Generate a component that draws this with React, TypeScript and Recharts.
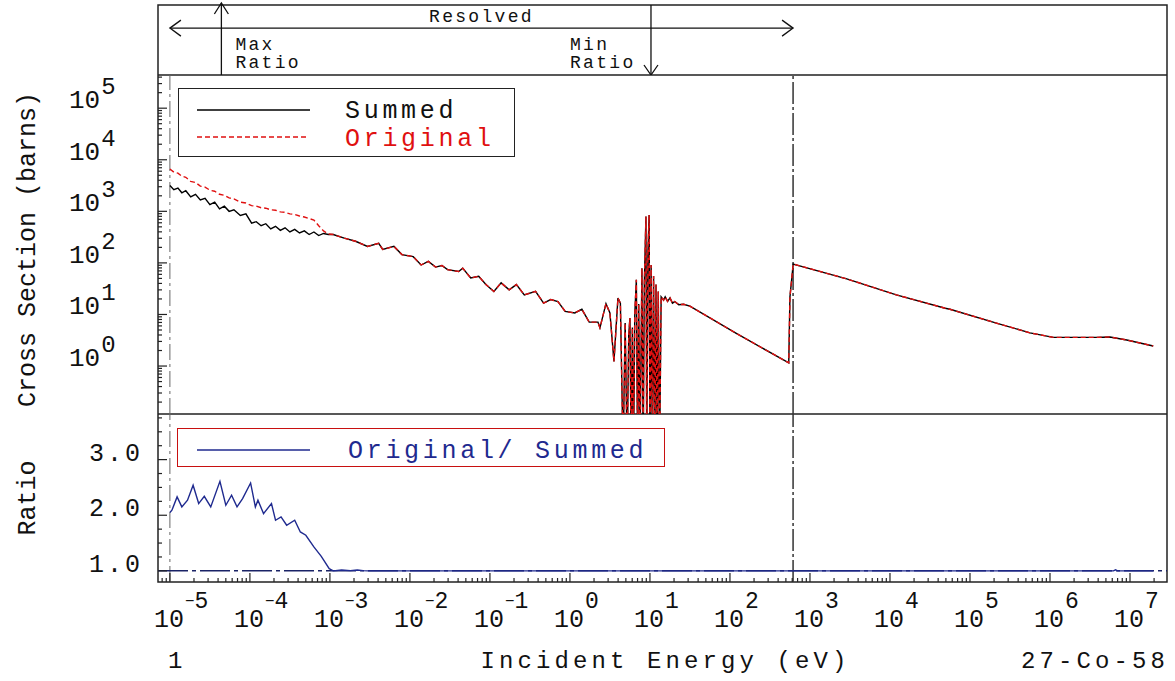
import React from 'react';
import {
  ComposedChart,
  Line,
  XAxis,
  YAxis,
  ReferenceLine,
  ReferenceArea,
  Legend
} from 'recharts';

const MONO = '"Liberation Mono", "DejaVu Sans Mono", monospace';
const INK = '#111';
const FRAME = '#222';
const RED = '#e01010';
const NAVY = '#1f2a8f';

// energy axis, eV (log)
const X_MIN = 7.1e-6;
const X_MAX = 2.9e7;
const xDecades = [-6, -5, -4, -3, -2, -1, 0, 1, 2, 3, 4, 5, 6, 7];

// cross section axis, barns (log)
const SIGMA_MIN = 0.1175;
const SIGMA_MAX = 4.4e5;
const sigmaDecades = [-1, 0, 1, 2, 3, 4, 5];

// ratio axis
const RATIO_MIN = 0.8;
const RATIO_MAX = 3.82;
const ratioTicks = [1, 1.25, 1.5, 1.75, 2, 2.25, 2.5, 2.75, 3, 3.25, 3.5, 3.75];

// annotation strip
const RESOLVED_START = 1e-5;
const RESOLVED_END = 615;
const MAX_RATIO_E = 4.4e-5;
const MIN_RATIO_E = 10.3;

// low energy part, where the two curves differ
const energyLow = [
  1.0e-5, 1.12e-5, 1.26e-5, 1.41e-5, 1.58e-5, 1.82e-5, 2.09e-5, 2.4e-5, 2.75e-5,
  3.16e-5, 3.63e-5, 4.17e-5, 4.79e-5, 5.5e-5, 6.31e-5, 7.59e-5, 8.91e-5, 1.05e-4,
  1.2e-4, 1.38e-4, 1.58e-4, 1.82e-4, 2.09e-4, 2.4e-4, 2.75e-4, 3.16e-4, 3.63e-4,
  4.17e-4, 4.79e-4, 5.5e-4, 6.31e-4, 7.24e-4, 8.32e-4, 9.55e-4
];
const summedLow = [
  3160, 2630, 2820, 2290, 2510, 1900, 2140, 1660, 1780, 1350, 1510, 1120, 1260,
  1000, 1070, 830, 890, 590, 630, 525, 575, 457, 513, 427, 479, 398, 447, 380,
  417, 355, 398, 339, 372, 355
];
const originalLow = [
  6610, 5750, 5500, 4790, 4570, 3800, 3630, 3090, 2950, 2570, 2450, 2140, 2040,
  1820, 1740, 1510, 1450, 1290, 1260, 1175, 1150, 1070, 1050, 977, 955, 891, 871,
  813, 776, 724, 676, 525, 417, 363
];

// common part: thermal / epithermal
const energyThermal = [
  1.1e-3, 1.51e-3, 2.09e-3, 2.95e-3, 4.07e-3, 4.57e-3, 6.31e-3, 7.94e-3, 1.1e-2,
  1.38e-2, 1.7e-2, 2.09e-2, 2.51e-2, 2.95e-2, 4.07e-2, 4.57e-2, 5.75e-2, 7.24e-2,
  8.91e-2, 0.112, 0.138, 0.174, 0.214, 0.269, 0.372, 0.468, 0.575, 0.708, 0.871,
  1.15, 1.41, 1.74, 2.24, 2.37, 2.82, 3.16, 3.55, 3.98, 4.27
];
const crossThermal = [
  355, 302, 263, 209, 240, 182, 209, 145, 132, 91, 107, 83, 89, 74, 68, 79, 51,
  55, 38, 28, 41, 30, 38, 24, 28, 16.6, 19.5, 17.8, 11.5, 10.7, 12.6, 7.1, 7.1,
  5.5, 16.2, 10.7, 1.23, 20.9, 16.6
];

// common part: resonances
const energyResonance = [
  4.62, 4.9, 5.19, 5.43, 5.62, 5.82, 6.03, 6.24, 6.46, 6.76, 7.0, 7.24, 7.5, 7.94,
  8.22, 8.51, 8.91, 9.12, 9.44, 9.77, 10.0, 10.35, 10.7, 11.1, 11.5, 11.9, 12.3,
  12.7, 13.2, 13.8, 14.8, 15.5, 16.6, 17.8, 19.1, 20.4, 22.9, 26.3, 31.6
];
const crossResonance = [
  0.02, 6.8, 0.02, 4.0, 8.5, 0.02, 5.6, 0.02, 10, 47, 0.02, 16, 0.02, 79, 0.02,
  40, 794, 0.02, 160, 851, 0.02, 91, 0.02, 56, 0.02, 38, 0.02, 28, 0.02, 22, 19,
  22, 18, 21, 16.6, 17.8, 15.5, 15.8, 14.5
];

// common part: unresolved / fast
const energyFast = [
  120, 543, 562, 617, 2880, 12000, 49000, 56200, 214000, 562000, 1.1e6, 3.8e6,
  5.6e6, 9.1e6, 1.95e7
];
const crossFast = [
  4.3, 1.15, 22, 95, 49, 24, 13.2, 12.6, 6.8, 4.4, 3.6, 3.6, 3.65, 3.2, 2.45
];

// Original / Summed
const ratioEnergy = [
  1.0e-5, 1.06e-5, 1.23e-5, 1.41e-5, 1.66e-5, 1.95e-5, 2.29e-5, 2.69e-5, 3.24e-5,
  4.22e-5, 5.0e-5, 5.9e-5, 6.9e-5, 8.1e-5, 1.02e-4, 1.17e-4, 1.26e-4, 1.48e-4,
  1.86e-4, 2.09e-4, 2.45e-4, 2.88e-4, 3.63e-4, 4.27e-4, 5.0e-4, 6.3e-4, 7.8e-4,
  9.8e-4, 1.1e-3, 1.4e-3, 1.8e-3, 2.2e-3, 2.6e-3, 3.0e-3, 1.0e6, 6.2e6, 6.6e6,
  7.0e6, 1.95e7
];
const ratioValues = [
  2.05, 2.09, 2.33, 2.15, 2.27, 2.54, 2.21, 2.34, 2.15, 2.61, 2.18, 2.36, 2.15,
  2.3, 2.58, 2.15, 2.27, 2.03, 2.21, 1.91, 1.97, 1.82, 1.91, 1.7, 1.64, 1.43,
  1.26, 1.04, 1.0, 1.015, 1.005, 1.015, 1.005, 1.0, 1.0, 1.0, 1.02, 1.0, 1.0
];

const energyCommon = [...energyThermal, ...energyResonance, ...energyFast];
const crossCommon = [...crossThermal, ...crossResonance, ...crossFast];

const mainData = [
  ...energyLow.map((e, i) => ({ e, summed: summedLow[i], original: originalLow[i] })),
  ...energyCommon.map((e, i) => ({ e, summed: crossCommon[i], original: crossCommon[i] }))
];
const ratioData = ratioEnergy.map((e, i) => ({ e, ratio: ratioValues[i] }));
const stripData = [{ e: RESOLVED_START }, { e: RESOLVED_END }];

const logTicks = (decades: number[], lo: number, hi: number) =>
  decades
    .flatMap(d => [1, 2, 3, 4, 5, 6, 7, 8, 9].map(m => m * Math.pow(10, d)))
    .filter(v => v >= lo && v <= hi);

const xTicks = logTicks(xDecades, X_MIN, X_MAX);
const sigmaTicks = logTicks(sigmaDecades, SIGMA_MIN, SIGMA_MAX);

const isDecade = (v: number) => {
  const p = Math.log10(v);
  return Math.abs(p - Math.round(p)) < 1e-6;
};

/* ---------- tick marks ---------- */

function XTickMark(props: any) {
  const { x, y, payload, inward, withLabel } = props;
  const v = payload.value;
  const major = isDecade(v);
  const exp = Math.round(Math.log10(v));
  const len = major ? 9 : 4;
  return (
    <g>
      <line x1={x} x2={x} y1={y} y2={y + inward * len} stroke={FRAME} strokeWidth={1.2} />
      {withLabel && major && (
        <text x={x - 16} y={y + 45} fontFamily={MONO} fill={INK}>
          <tspan fontSize={25}>10</tspan>
          {exp < 0 && (
            <tspan fontSize={16} dx={1} dy={-21}>−</tspan>
          )}
          <tspan fontSize={23} dx={exp < 0 ? 0 : 1} dy={exp < 0 ? 2 : -19}>
            {Math.abs(exp)}
          </tspan>
        </text>
      )}
    </g>
  );
}

function SigmaTick(props: any) {
  const { x, y, payload, inward, withLabel } = props;
  const v = payload.value;
  const major = isDecade(v);
  const exp = Math.round(Math.log10(v));
  const len = major ? 9 : 4;
  return (
    <g>
      <line x1={x} x2={x + inward * len} y1={y} y2={y} stroke={FRAME} strokeWidth={1.2} />
      {withLabel && major && (
        <text x={x - 89} y={y} fontFamily={MONO} fill={INK}>
          <tspan fontSize={26}>10</tspan>
          <tspan fontSize={24} dx={1} dy={-14}>{exp}</tspan>
        </text>
      )}
    </g>
  );
}

function RatioTick(props: any) {
  const { x, y, payload, inward, withLabel } = props;
  const v = payload.value;
  const major = Number.isInteger(v);
  const len = major ? 9 : 4;
  return (
    <g>
      <line x1={x} x2={x + inward * len} y1={y} y2={y} stroke={FRAME} strokeWidth={1.2} />
      {withLabel && major && (
        <text
          x={x - 15}
          y={y + 1}
          textAnchor="end"
          fontFamily={MONO}
          fontSize={25}
          letterSpacing={3}
          fill={INK}
        >
          {v.toFixed(1)}
        </text>
      )}
    </g>
  );
}

/* ---------- axis titles ---------- */

function VerticalTitle(props: any) {
  const { viewBox, text, shift } = props;
  const cy = viewBox.y + viewBox.height / 2 + (shift || 0);
  return (
    <text
      x={35}
      y={cy}
      transform={`rotate(-90, 35, ${cy})`}
      textAnchor="middle"
      fontFamily={MONO}
      fontSize={25}
      fill={INK}
    >
      {text}
    </text>
  );
}

function BottomTitle(props: any) {
  const { viewBox } = props;
  const base = viewBox.y + 86;
  const style = { fontFamily: MONO, fontSize: 24, letterSpacing: 4.1, fill: INK };
  return (
    <g>
      <text x={viewBox.x + 10} y={base} {...style}>1</text>
      <text x={viewBox.x + viewBox.width / 2 + 3} y={base} textAnchor="middle" {...style}>
        Incident Energy (eV)
      </text>
      <text x={viewBox.x + viewBox.width + 2} y={base} textAnchor="end" {...style}>
        27-Co-58
      </text>
    </g>
  );
}

/* ---------- annotation shapes ---------- */

const stripText = { fontFamily: MONO, fontSize: 18, letterSpacing: 2.3, fill: INK, stroke: 'none' };

const ResolvedArrow = (p: any) => {
  const a = Math.min(p.x1, p.x2);
  const b = Math.max(p.x1, p.x2);
  const y = p.y1;
  return (
    <g stroke={INK} strokeWidth={1.3} fill="none">
      <line x1={a} x2={b} y1={y} y2={y} />
      <polyline points={`${a + 11},${y - 8} ${a},${y} ${a + 11},${y + 8}`} />
      <polyline points={`${b - 11},${y - 8} ${b},${y} ${b - 11},${y + 8}`} />
      <text x={(a + b) / 2} y={y - 6} textAnchor="middle" {...stripText}>Resolved</text>
    </g>
  );
};

const MaxRatioArrow = (p: any) => {
  const x = p.x1;
  const top = Math.min(p.y1, p.y2);
  const bottom = Math.max(p.y1, p.y2);
  return (
    <g stroke={INK} strokeWidth={1.3} fill="none">
      <line x1={x} x2={x} y1={top - 2} y2={bottom} />
      <polyline points={`${x - 7},${top + 9} ${x},${top - 2} ${x + 7},${top + 9}`} />
      <text x={x + 14} y={top + 45} {...stripText}>Max</text>
      <text x={x + 14} y={top + 63} {...stripText}>Ratio</text>
    </g>
  );
};

const MinRatioArrow = (p: any) => {
  const x = p.x1;
  const top = Math.min(p.y1, p.y2);
  const bottom = Math.max(p.y1, p.y2);
  return (
    <g stroke={INK} strokeWidth={1.3} fill="none">
      <line x1={x} x2={x} y1={top} y2={bottom} />
      <polyline points={`${x - 7},${bottom - 10} ${x},${bottom} ${x + 7},${bottom - 10}`} />
      <text x={x - 81} y={top + 45} {...stripText}>Min</text>
      <text x={x - 81} y={top + 63} {...stripText}>Ratio</text>
    </g>
  );
};

/* ---------- legends ---------- */

const legendText = { fontFamily: MONO, fontSize: 25, letterSpacing: 3.7 };

const MainLegendBox = () => (
  <div
    style={{
      width: 337,
      height: 69,
      border: `1.5px solid ${FRAME}`,
      boxSizing: 'border-box',
      background: '#fff'
    }}
  >
    <svg width={334} height={66} style={{ display: 'block' }}>
      <line x1={18} x2={131} y1={21} y2={21} stroke="#000" strokeWidth={1.3} />
      <text x={166} y={29} fill={INK} {...legendText}>Summed</text>
      <line x1={18} x2={127} y1={48} y2={48} stroke={RED} strokeWidth={1.3} strokeDasharray="5 3" />
      <text x={166} y={57} fill={RED} {...legendText}>Original</text>
    </svg>
  </div>
);

const RatioLegendBox = () => (
  <div
    style={{
      width: 488,
      height: 39,
      border: '1.5px solid #c81010',
      boxSizing: 'border-box',
      background: '#fff'
    }}
  >
    <svg width={485} height={36} style={{ display: 'block' }}>
      <line x1={19} x2={132} y1={21} y2={21} stroke={NAVY} strokeWidth={1.3} />
      <text x={170} y={29} fill={NAVY} {...legendText}>Original/ Summed</text>
    </svg>
  </div>
);

/* ---------- shared axis bits ---------- */

const flatAxis = {
  tickLine: false,
  axisLine: false,
  tickSize: 0,
  tickMargin: 0,
  interval: 0 as const,
  allowDataOverflow: true
};

const App = () => {
  return (
    <div
      style={{
        position: 'absolute',
        left: 0,
        top: 0,
        width: 1175,
        height: 681,
        background: '#fff',
        overflow: 'hidden'
      }}
    >
      {/* annotation strip */}
      <div style={{ position: 'absolute', left: 0, top: 0 }}>
        <ComposedChart
          width={1175}
          height={75}
          data={stripData}
          margin={{ top: 5, right: 8, bottom: 0, left: 158 }}
        >
          <XAxis xAxisId="e" dataKey="e" type="number" scale="log" domain={[X_MIN, X_MAX]} allowDataOverflow hide />
          <YAxis yAxisId="s" type="number" domain={[0, 1]} allowDataOverflow hide />
          <ReferenceArea
            xAxisId="e"
            yAxisId="s"
            x1={X_MIN}
            x2={X_MAX}
            y1={0}
            y2={1}
            fill="none"
            fillOpacity={0}
            stroke={FRAME}
            strokeWidth={1.5}
          />
          <ReferenceLine
            xAxisId="e"
            yAxisId="s"
            segment={[{ x: RESOLVED_START, y: 0.67 }, { x: RESOLVED_END, y: 0.67 }]}
            shape={ResolvedArrow}
          />
          <ReferenceLine xAxisId="e" yAxisId="s" x={MAX_RATIO_E} shape={MaxRatioArrow} />
          <ReferenceLine xAxisId="e" yAxisId="s" x={MIN_RATIO_E} shape={MinRatioArrow} />
        </ComposedChart>
      </div>

      {/* cross sections */}
      <div style={{ position: 'absolute', left: 0, top: 75 }}>
        <ComposedChart
          width={1175}
          height={339}
          data={mainData}
          margin={{ top: 0, right: 8, bottom: 0, left: 0 }}
        >
          <XAxis
            xAxisId="b"
            dataKey="e"
            type="number"
            scale="log"
            domain={[X_MIN, X_MAX]}
            ticks={xTicks}
            height={0}
            tick={(p: any) => <XTickMark {...p} inward={-1} />}
            {...flatAxis}
          />
          <XAxis
            xAxisId="t"
            orientation="top"
            dataKey="e"
            type="number"
            scale="log"
            domain={[X_MIN, X_MAX]}
            ticks={xTicks}
            height={0}
            tick={(p: any) => <XTickMark {...p} inward={1} />}
            {...flatAxis}
          />
          <YAxis
            yAxisId="l"
            type="number"
            scale="log"
            domain={[SIGMA_MIN, SIGMA_MAX]}
            ticks={sigmaTicks}
            width={158}
            tick={(p: any) => <SigmaTick {...p} inward={1} withLabel />}
            label={<VerticalTitle text="Cross Section (barns)" shift={5} />}
            {...flatAxis}
          />
          <YAxis
            yAxisId="r"
            orientation="right"
            type="number"
            scale="log"
            domain={[SIGMA_MIN, SIGMA_MAX]}
            ticks={sigmaTicks}
            width={0}
            tick={(p: any) => <SigmaTick {...p} inward={-1} />}
            {...flatAxis}
          />
          <ReferenceArea
            xAxisId="b"
            yAxisId="l"
            x1={X_MIN}
            x2={X_MAX}
            y1={SIGMA_MIN}
            y2={SIGMA_MAX}
            fill="none"
            fillOpacity={0}
            stroke={FRAME}
            strokeWidth={1.5}
          />
          <ReferenceLine xAxisId="b" yAxisId="l" x={RESOLVED_START} stroke="#666" strokeWidth={1} strokeDasharray="16 4 3 4" />
          <ReferenceLine xAxisId="b" yAxisId="l" x={RESOLVED_END} stroke="#333" strokeWidth={1.5} strokeDasharray="22 3 3 3" />
          <Line
            xAxisId="b"
            yAxisId="l"
            type="linear"
            dataKey="summed"
            stroke="#000"
            strokeWidth={1.4}
            dot={false}
            isAnimationActive={false}
          />
          <Line
            xAxisId="b"
            yAxisId="l"
            type="linear"
            dataKey="original"
            stroke={RED}
            strokeWidth={1.4}
            strokeDasharray="5 3"
            dot={false}
            isAnimationActive={false}
          />
          <Legend
            layout="horizontal"
            verticalAlign="middle"
            align="center"
            content={() => <MainLegendBox />}
            wrapperStyle={{ left: 178, top: 13, width: 337, height: 69 }}
          />
        </ComposedChart>
      </div>

      {/* ratio */}
      <div style={{ position: 'absolute', left: 0, top: 414 }}>
        <ComposedChart
          width={1175}
          height={267}
          data={ratioData}
          margin={{ top: 0, right: 8, bottom: 0, left: 0 }}
        >
          <XAxis
            xAxisId="b"
            dataKey="e"
            type="number"
            scale="log"
            domain={[X_MIN, X_MAX]}
            ticks={xTicks}
            height={99}
            tick={(p: any) => <XTickMark {...p} inward={-1} withLabel />}
            label={<BottomTitle />}
            {...flatAxis}
          />
          <XAxis
            xAxisId="t"
            orientation="top"
            dataKey="e"
            type="number"
            scale="log"
            domain={[X_MIN, X_MAX]}
            ticks={xTicks}
            height={0}
            tick={(p: any) => <XTickMark {...p} inward={1} />}
            {...flatAxis}
          />
          <YAxis
            yAxisId="l"
            type="number"
            domain={[RATIO_MIN, RATIO_MAX]}
            ticks={ratioTicks}
            width={158}
            tick={(p: any) => <RatioTick {...p} inward={1} withLabel />}
            label={<VerticalTitle text="Ratio" shift={0} />}
            {...flatAxis}
          />
          <YAxis
            yAxisId="r"
            orientation="right"
            type="number"
            domain={[RATIO_MIN, RATIO_MAX]}
            ticks={ratioTicks}
            width={0}
            tick={(p: any) => <RatioTick {...p} inward={-1} />}
            {...flatAxis}
          />
          <ReferenceArea
            xAxisId="b"
            yAxisId="l"
            x1={X_MIN}
            x2={X_MAX}
            y1={RATIO_MIN}
            y2={RATIO_MAX}
            fill="none"
            fillOpacity={0}
            stroke={FRAME}
            strokeWidth={1.5}
          />
          <ReferenceLine xAxisId="b" yAxisId="l" x={RESOLVED_START} stroke="#666" strokeWidth={1} strokeDasharray="16 4 3 4" />
          <ReferenceLine xAxisId="b" yAxisId="l" x={RESOLVED_END} stroke="#333" strokeWidth={1.5} strokeDasharray="22 3 3 3" />
          <ReferenceLine xAxisId="b" yAxisId="l" y={1} stroke="#1a2366" strokeWidth={1.5} strokeDasharray="30 4 4 4" />
          <Line
            xAxisId="b"
            yAxisId="l"
            type="linear"
            dataKey="ratio"
            stroke={NAVY}
            strokeWidth={1.4}
            dot={false}
            isAnimationActive={false}
          />
          <Legend
            layout="horizontal"
            verticalAlign="middle"
            align="center"
            content={() => <RatioLegendBox />}
            wrapperStyle={{ left: 177, top: 14, width: 488, height: 39 }}
          />
        </ComposedChart>
      </div>
    </div>
  );
};

export default App;
